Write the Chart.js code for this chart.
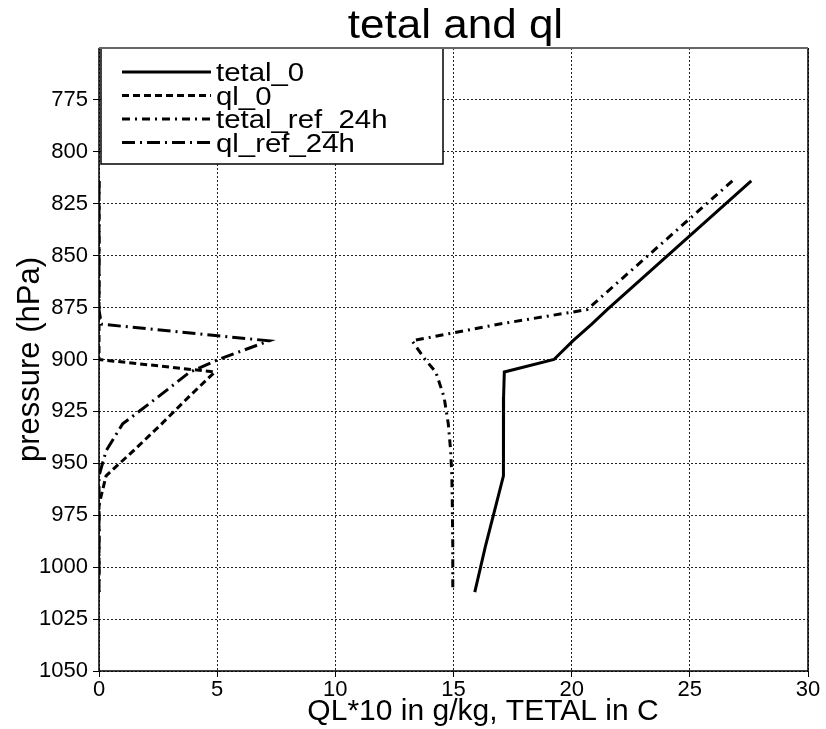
<!DOCTYPE html>
<html><head><meta charset="utf-8">
<script src="https://cdn.jsdelivr.net/npm/chart.js@4/dist/chart.umd.min.js"></script>
<style>html,body{margin:0;padding:0;background:#fff}#wrap{width:826px;height:729px}</style>
</head><body><div id="wrap"><canvas id="c" width="826" height="729"></canvas></div>
<script>
// ---- data ----
const pressure      = [814, 876, 883, 891, 900, 906, 918, 931, 944, 956, 970, 990, 1012];
const tetal_0       = [27.6, 21.5, 20.85, 20.05, 19.25, 17.15, 17.12, 17.12, 17.12, 17.1, 16.8, 16.35, 15.9];
const ql_0          = [0, 0, 0, 0, 0, 4.9, 3.8, 2.65, 1.45, 0.3, 0, 0, 0];
const tetal_ref_24h = [26.8, 20.65, 16.9, 13.25, 13.8, 14.25, 14.6, 14.78, 14.88, 14.93, 14.95, 14.97, 14.97];
const ql_ref_24h    = [0, 0, 0.1, 7.2, 5.05, 3.85, 2.5, 1.0, 0.3, 0, 0, 0, 0];
const seriesNames   = ['tetal_0', 'ql_0', 'tetal_ref_24h', 'ql_ref_24h'];
const xTickValues   = [0, 5, 10, 15, 20, 25, 30];
const yTickValues   = [775, 800, 825, 850, 875, 900, 925, 950, 975, 1000, 1025, 1050];
const titleText     = 'tetal and ql';
const xTitle        = 'QL*10 in g/kg, TETAL in C';
const yTitle        = 'pressure (hPa)';

// ---- styles ----
const FONT = "'Liberation Sans', Arial, sans-serif";
const dashes = [[], [7, 4], [8, 5, 2, 5], [13, 5, 2, 5]];
const seriesValues = [tetal_0, ql_0, tetal_ref_24h, ql_ref_24h];

const datasets = seriesNames.map((name, k) => ({
  label: name,
  data: pressure.map((p, i) => ({x: seriesValues[k][i], y: p})),
  showLine: true,
  borderColor: '#000',
  backgroundColor: '#000',
  borderWidth: 3,
  borderDash: dashes[k],
  pointRadius: 0,
  tension: 0,
  fill: false
}));

function stretchedText(ctx, text, x, y, sx) {
  ctx.save();
  ctx.translate(x, y);
  ctx.scale(sx, 1);
  ctx.fillText(text, 0, 0);
  ctx.restore();
}

const decor = {
  id: 'decor',
  afterDatasetsDraw(chart) {
    const ctx = chart.ctx, a = chart.chartArea;
    ctx.save();
    // legend box
    const lx = a.left + 2, ly = a.top, lw = 443 - lx, lh = 164 - ly;
    ctx.fillStyle = '#fff';
    ctx.fillRect(lx, ly, lw, lh);
    ctx.strokeStyle = '#000';
    ctx.lineWidth = 1.5;
    ctx.setLineDash([]);
    ctx.strokeRect(lx, ly, lw, lh);
    seriesNames.forEach((name, k) => {
      const y = 72 + k * 23.5;
      ctx.beginPath();
      ctx.setLineDash(dashes[k]);
      ctx.lineWidth = 3;
      ctx.lineCap = 'butt';
      ctx.moveTo(122, y);
      ctx.lineTo(211, y);
      ctx.stroke();
      ctx.setLineDash([]);
      ctx.fillStyle = '#000';
      ctx.font = '26px ' + FONT;
      ctx.textAlign = 'left';
      ctx.textBaseline = 'alphabetic';
      stretchedText(ctx, name, 216, y + 9, 1.13);
    });
    // frame
    ctx.setLineDash([]);
    ctx.lineWidth = 1.5;
    ctx.strokeStyle = '#000';
    ctx.beginPath();
    ctx.moveTo(a.left, a.top); ctx.lineTo(a.left, a.bottom); ctx.lineTo(a.right, a.bottom); ctx.lineTo(a.right, a.top);
    ctx.stroke();
    ctx.strokeStyle = '#666';
    ctx.lineWidth = 2;
    ctx.beginPath();
    ctx.moveTo(a.left, a.top); ctx.lineTo(a.right, a.top);
    ctx.stroke();
    // title
    ctx.fillStyle = '#000';
    ctx.font = '40px ' + FONT;
    ctx.textAlign = 'center';
    ctx.textBaseline = 'alphabetic';
    stretchedText(ctx, titleText, (a.left + a.right) / 2 + 2, 38, 1.1);
    // x axis title
    ctx.font = '30px ' + FONT;
    ctx.fillText(xTitle, 483, 720);
    ctx.restore();
  }
};

new Chart(document.getElementById('c'), {
  type: 'scatter',
  data: {datasets},
  options: {
    responsive: false,
    animation: false,
    devicePixelRatio: 1,
    layout: {padding: {left: 0, right: 18, top: 48, bottom: 0}},
    plugins: {legend: {display: false}, title: {display: false}, tooltip: {enabled: false}},
    scales: {
      x: {
        type: 'linear', min: 0, max: 30,
        afterBuildTicks: s => { s.ticks = xTickValues.map(v => ({value: v})); },
        afterFit: s => { s.height = 58; },
        grid: {color: '#222', lineWidth: 1, tickLength: 6, tickColor: '#000', tickBorderDash: [], tickWidth: 1},
        border: {display: false, dash: [2, 2]},
        ticks: {color: '#000', font: {family: FONT, size: 22}, padding: 0, maxRotation: 0, autoSkip: false,
                callback: v => String(v)},
        title: {display: false}
      },
      y: {
        type: 'linear', reverse: true, min: 750, max: 1050,
        afterBuildTicks: s => { s.ticks = yTickValues.map(v => ({value: v})); },
        afterFit: s => { s.width = 99; },
        grid: {color: '#222', lineWidth: 1, tickLength: 6, tickColor: '#000', tickBorderDash: [], tickWidth: 1},
        border: {display: false, dash: [2, 2]},
        ticks: {color: '#000', font: {family: FONT, size: 22}, padding: 5, autoSkip: false,
                callback: v => String(v)},
        title: {display: true, text: yTitle, color: '#000', font: {family: FONT, size: 31}, padding: {top: 12, bottom: 0}}
      }
    }
  },
  plugins: [decor]
});
</script>
</body></html>
